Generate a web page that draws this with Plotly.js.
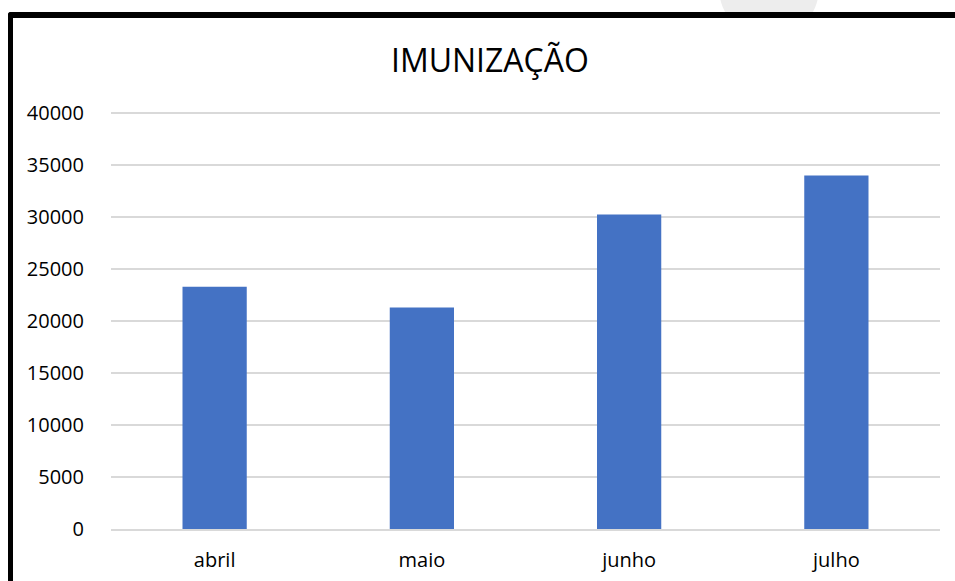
<!DOCTYPE html>
<html>
<head>
<meta charset="utf-8">
<script src="https://cdn.plot.ly/plotly-3.0.1.min.js"></script>
<style>
  html, body { margin: 0; padding: 0; background: #ffffff; overflow: hidden; }
  #bgcircle { position: absolute; left: 719px; top: -62px; width: 100px; height: 100px; border-radius: 50%; background: #ededed; z-index: 0; }
  #frame { position: absolute; left: 8px; top: 12px; width: 960px; height: 600px; box-sizing: border-box; border-left: 5px solid #000; border-top: 6px solid #000; border-top-left-radius: 3px; background: #ffffff; z-index: 1; }
  #chart { position: absolute; left: 0; top: 0; width: 955px; height: 581px; z-index: 2; }
</style>
</head>
<body>
<div id="bgcircle"></div>
<div id="frame"></div>
<div id="chart"></div>
<script>
const titleText = "IMUNIZAÇÃO";
const categories = ["abril", "maio", "junho", "julho"];
const values = [23300, 21300, 30250, 34000];
const yTickValues = [0, 5000, 10000, 15000, 20000, 25000, 30000, 35000, 40000];
const yTickLabels = ["0", "5000", "10000", "15000", "20000", "25000", "30000", "35000", "40000"];

const fontFamily = "'Open Sans', 'Noto Sans', sans-serif";

const data = [{
  type: "bar",
  x: categories,
  y: values,
  marker: { color: "#4472c4", line: { width: 0 } },
  hoverinfo: "x+y"
}];

const layout = {
  width: 955,
  height: 581,
  paper_bgcolor: "rgba(0,0,0,0)",
  plot_bgcolor: "rgba(0,0,0,0)",
  margin: { l: 111, r: 15, t: 111, b: 52, pad: 0 },
  bargap: 0.69,
  showlegend: false,
  title: {
    text: titleText,
    font: { family: fontFamily, size: 32, color: "#000000" },
    x: 0.513,
    xanchor: "center",
    y: 0.895,
    yanchor: "middle"
  },
  xaxis: {
    type: "category",
    showgrid: false,
    showline: true,
    linecolor: "#d9d9d9",
    linewidth: 1.5,
    zeroline: false,
    ticks: "outside",
    ticklen: 12,
    tickcolor: "rgba(0,0,0,0)",
    tickfont: { family: fontFamily, size: 20, color: "#000000" }
  },
  yaxis: {
    range: [0, 40200],
    tickvals: yTickValues,
    ticktext: yTickLabels,
    showgrid: true,
    gridcolor: "#d9d9d9",
    gridwidth: 1.5,
    zeroline: false,
    showline: false,
    ticks: "outside",
    ticklen: 22,
    tickcolor: "rgba(0,0,0,0)",
    tickfont: { family: fontFamily, size: 20, color: "#000000" }
  }
};

Plotly.newPlot("chart", data, layout, { displayModeBar: false, staticPlot: false });
</script>
</body>
</html>
